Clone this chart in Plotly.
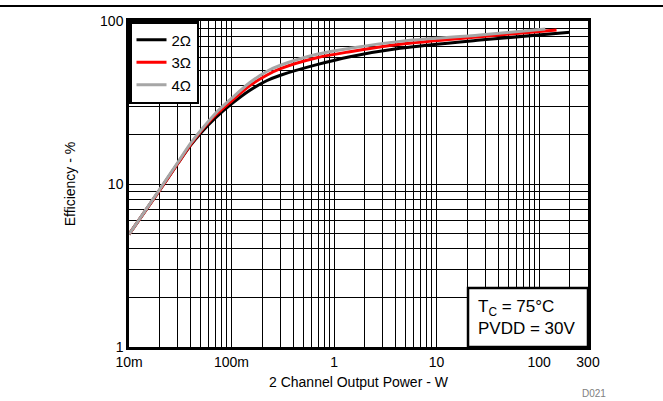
import plotly.graph_objects as go

# Data
power_2ohm = [0.01, 0.02, 0.03, 0.04, 0.05, 0.07, 0.1, 0.15, 0.22, 0.3, 0.68, 1.43, 4.4, 26.5, 200]
eff_2ohm = [4.9, 9.2, 13.4, 17.3, 20.5, 25.5, 31.0, 37.5, 43.0, 46.5, 54.0, 60.4, 68.0, 76.4, 85.3]

power_3ohm = [0.01, 0.02, 0.03, 0.04, 0.05, 0.07, 0.1, 0.15, 0.22, 0.3, 0.68, 1.43, 4.4, 26.5, 148]
eff_3ohm = [4.9, 9.2, 13.4, 17.5, 21.0, 26.5, 32.3, 40.0, 46.5, 51.0, 59.5, 64.8, 72.0, 80.1, 88.0]

power_4ohm = [0.01, 0.02, 0.03, 0.04, 0.05, 0.07, 0.1, 0.15, 0.22, 0.3, 0.68, 1.43, 4.4, 26.5, 115]
eff_4ohm = [4.9, 9.3, 13.6, 17.8, 21.3, 27.2, 33.5, 41.8, 49.0, 53.5, 62.5, 68.0, 75.0, 82.0, 89.3]

series_names = ["2\u03a9", "3\u03a9", "4\u03a9"]
series_colors = ["#000000", "#ff0000", "#a6a6a6"]

x_tickvals = []
x_ticktext = []
for dec, lab in [(0.01, "10m"), (0.1, "100m"), (1, "1"), (10, "10")]:
    for m in range(1, 10):
        x_tickvals.append(dec * m)
        x_ticktext.append(lab if m == 1 else "")
x_tickvals += [100, 200, 300]
x_ticktext += ["100", "", "300"]

y_tickvals = []
y_ticktext = []
for dec, lab in [(1, "1"), (10, "10")]:
    for m in range(1, 10):
        y_tickvals.append(dec * m)
        y_ticktext.append(lab if m == 1 else "")
y_tickvals.append(100)
y_ticktext.append("100")

FONT = "Liberation Sans, Arial, sans-serif"

fig = go.Figure()
for xs, ys, name, col in [
    (power_2ohm, eff_2ohm, series_names[0], series_colors[0]),
    (power_3ohm, eff_3ohm, series_names[1], series_colors[1]),
    (power_4ohm, eff_4ohm, series_names[2], series_colors[2]),
]:
    fig.add_trace(go.Scatter(x=xs, y=ys, mode="lines", name=name,
                             line=dict(color=col, width=3, shape="spline", smoothing=0.8)))

fig.update_layout(
    width=663, height=401,
    margin=dict(l=129, r=75, t=21, b=54),
    paper_bgcolor="white", plot_bgcolor="white",
    font=dict(family=FONT, size=14, color="black"),
    legend=dict(x=0, y=1, xanchor="left", yanchor="top",
                bgcolor="white", bordercolor="black", borderwidth=2.5,
                font=dict(size=15), tracegroupgap=0, itemwidth=30),
    showlegend=True,
)

fig.update_xaxes(
    type="log", range=[-2, 2.477121],
    tickvals=x_tickvals, ticktext=x_ticktext, ticks="",
    showgrid=True, gridcolor="#000000", gridwidth=1,
    showline=True, linecolor="black", linewidth=2.5, mirror=True,
    zeroline=False,
    title=dict(text="2 Channel Output Power - W", standoff=9, font=dict(size=14)),
    tickfont=dict(size=14),
)
fig.update_yaxes(
    type="log", range=[0, 2],
    tickvals=y_tickvals, ticktext=y_ticktext, ticks="",
    showgrid=True, gridcolor="#000000", gridwidth=1,
    showline=True, linecolor="black", linewidth=2.5, mirror=True,
    zeroline=False,
    title=dict(text="Efficiency - %", standoff=22, font=dict(size=14)),
    tickfont=dict(size=14),
)

# Condition box
fig.add_shape(type="rect", xref="paper", yref="paper",
              x0=0.7386, x1=1.0, y0=0.0, y1=0.181,
              fillcolor="white", line=dict(color="black", width=2.5), layer="above")
fig.add_annotation(xref="paper", yref="paper", x=0.755, y=0.09,
                   xanchor="left", yanchor="middle", align="left", showarrow=False,
                   text="T<sub>C</sub> = 75\u00b0C<br>PVDD = 30V",
                   font=dict(size=17, family=FONT))

# Top rule across page
fig.add_shape(type="line", xref="paper", yref="paper",
              x0=-129/459, x1=(663-129)/459, y0=(347-6)/326, y1=(347-6)/326,
              line=dict(color="black", width=2))

# Figure id
fig.add_annotation(xref="paper", yref="paper", x=(594-129)/459, y=(347-393)/326,
                   xanchor="center", yanchor="middle", showarrow=False,
                   text="D021", font=dict(size=10, color="#808080", family=FONT))

fig.write_html("out.html", config={"displayModeBar": False},
               post_script="document.body.style.margin='0';document.body.style.padding='0';")
